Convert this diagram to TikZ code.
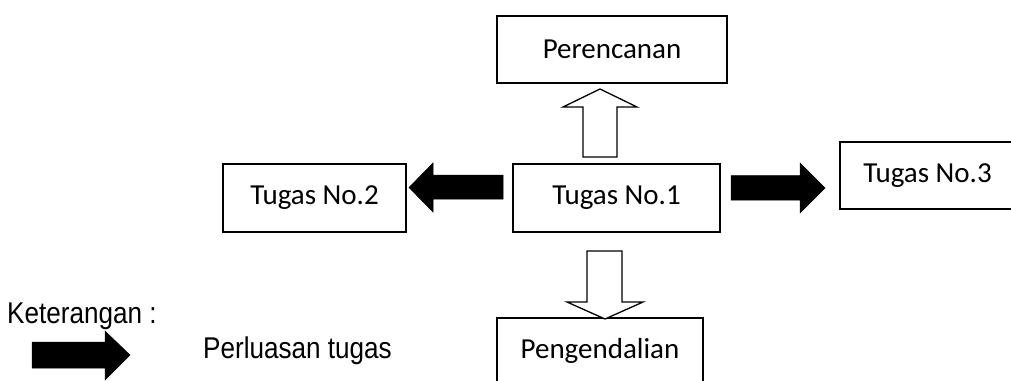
\documentclass[tikz,border=0pt]{standalone}
\usepackage{fontspec}
\newfontfamily\calib{Carlito}
\newfontfamily\ariln[FakeStretch=0.87]{Liberation Sans}
\begin{document}
\begin{tikzpicture}[x=1pt,y=-1pt,
  box/.style={draw=black,line width=1.3pt,fill=white,inner sep=0pt,
    font=\calib\fontsize{29}{34}\selectfont},
  hollow/.style={draw=black,line width=1.3pt,fill=white,line join=miter},
  solid/.style={fill=black,draw=black,line width=0.5pt},
  legend/.style={inner sep=0pt,font=\ariln\fontsize{30}{35}\selectfont}]
\useasboundingbox (0,0) rectangle (1011,380);
\begin{scope}
\clip (0,0) rectangle (1011,380);
% boxes
\node[box,minimum width=230pt,minimum height=67pt] (per) at (612,49.5) {Perencanan};
\node[box,minimum width=207pt,minimum height=68pt] (t1) at (616.5,198) {Tugas No.1};
\node[box,minimum width=183pt,minimum height=68pt] (t2) at (314.5,198) {Tugas No.2};
\node[box,minimum width=175pt,minimum height=67pt] (t3) at (927.5,175.5) {Tugas No.3};
\node[box,minimum width=206pt,minimum height=66pt] (pen) at (600,351) {Pengendalian};
% hollow up arrow (Tugas No.1 -> Perencanan)
\draw[hollow] (583,157) -- (583,107) -- (563,107) -- (600,89) -- (637,107)
  -- (617,107) -- (617,157) -- cycle;
% hollow down arrow (Tugas No.1 -> Pengendalian)
\draw[hollow] (587,251) -- (622,251) -- (622,302) -- (643,302) -- (605,319)
  -- (567,302) -- (587,302) -- cycle;
% solid left arrow (Tugas No.1 -> Tugas No.2)
\filldraw[solid] (503,175) -- (433,175) -- (433,163) -- (409,187.5) -- (433,212)
  -- (433,199) -- (503,199) -- cycle;
% solid right arrow (Tugas No.1 -> Tugas No.3)
\filldraw[solid] (731,175.5) -- (800,175.5) -- (800,163) -- (825,188) -- (800,213)
  -- (800,200) -- (731,200) -- cycle;
% legend
\node[legend,anchor=base west] (ket) at (7,323) {Keterangan :};
\filldraw[solid] (32,342) -- (105,342) -- (105,331) -- (130,355) -- (105,380)
  -- (105,368) -- (32,368) -- cycle;
\node[legend,anchor=base west] (perl) at (203,358) {Perluasan tugas};
\end{scope}
\end{tikzpicture}
\end{document}
